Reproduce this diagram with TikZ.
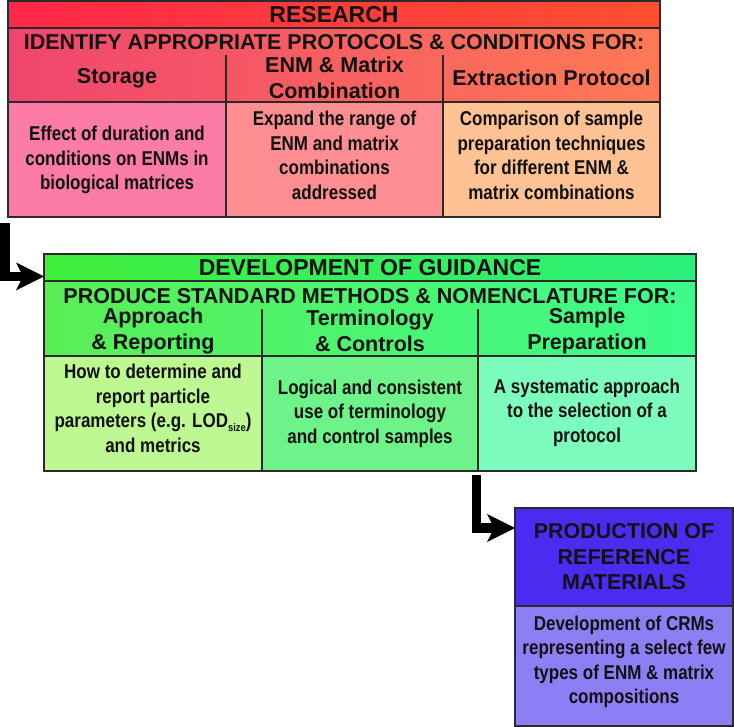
\documentclass[tikz,border=0pt]{standalone}
\usepackage{fontspec}
\setmainfont{Liberation Sans}
\newfontfamily\nfont[FakeStretch=0.85]{Liberation Sans}
\usetikzlibrary{arrows.meta}
\definecolor{bord}{HTML}{2A2A2A}
\definecolor{txt}{HTML}{111111}
\definecolor{rOneL}{HTML}{FF2848}
\definecolor{rOneR}{HTML}{FF4F30}
\definecolor{rTwoL}{HTML}{F0456E}
\definecolor{rTwoR}{HTML}{FF7A55}
\definecolor{rcA}{HTML}{FC7CA6}
\definecolor{rcB}{HTML}{FF8E92}
\definecolor{rcC}{HTML}{FFC294}
\definecolor{gOneL}{HTML}{40EE3A}
\definecolor{gOneR}{HTML}{2CF07C}
\definecolor{gTwoL}{HTML}{5AEE55}
\definecolor{gTwoR}{HTML}{3CFC8C}
\definecolor{gcA}{HTML}{BEF892}
\definecolor{gcB}{HTML}{6DF38A}
\definecolor{gcC}{HTML}{7CFDBE}
\definecolor{pOne}{HTML}{4A2CF0}
\definecolor{pTwo}{HTML}{8E7EF6}
\begin{document}
\begin{tikzpicture}[x=1pt,y=-1pt,
  box/.style={draw=bord, line width=1.6pt, inner sep=0pt, outer sep=0pt, anchor=north west},
  sepline/.style={draw=bord, line width=1.6pt},
  hd/.style={font=\bfseries\fontsize{21.5}{25.5}\selectfont, text=txt, align=center, inner sep=0pt},
  ttl/.style={font=\bfseries\fontsize{23}{25.5}\selectfont, text=txt, align=center, inner sep=0pt},
  bd/.style={font=\nfont\bfseries\fontsize{20}{24.5}\selectfont, text=txt, align=center, inner sep=0pt},
  conn/.style={draw=black, line width=9.5pt, line join=miter,
    -{Stealth[length=28pt,width=28pt,inset=7pt,line width=0pt]}}
]
\useasboundingbox (0,0) rectangle (734,727);

% ---------- RESEARCH block ----------
\node[box, minimum width=652pt, minimum height=27pt, left color=rOneL, right color=rOneR] (rrow1) at (8,1) {};
\node[box, minimum width=652pt, minimum height=74pt, left color=rTwoL, right color=rTwoR] (rrow2) at (8,28) {};
\node[box, fill=rcA, minimum width=218pt, minimum height=115pt] (rc1) at (8,102) {};
\node[box, fill=rcB, minimum width=217pt, minimum height=115pt] (rc2) at (226,102) {};
\node[box, fill=rcC, minimum width=217pt, minimum height=115pt] (rc3) at (443,102) {};
\draw[sepline] (226,55) -- (226,102);
\draw[sepline] (443,55) -- (443,102);

\node[ttl] (t1) at (334,14.5) {RESEARCH};
\node[hd] (t2) at (334,42) {IDENTIFY APPROPRIATE PROTOCOLS \& CONDITIONS FOR:};
\node[hd] (t3) at (117,78) {Storage};
\node[hd] (t4) at (334.5,78) {ENM \& Matrix\\Combination};
\node[hd] (t5) at (551.5,78) {Extraction Protocol};
\node[bd] (t6) at (117,160) {Effect of duration and\\conditions on ENMs in\\biological matrices};
\node[bd] (t7) at (334.5,155.5) {Expand the range of\\ENM and matrix\\combinations\\addressed};
\node[bd] (t8) at (551.5,155.5) {Comparison of sample\\preparation techniques\\for different ENM \&\\matrix combinations};

% ---------- GUIDANCE block ----------
\node[box, minimum width=652pt, minimum height=27pt, left color=gOneL, right color=gOneR] (grow1) at (44,254) {};
\node[box, minimum width=652pt, minimum height=75pt, left color=gTwoL, right color=gTwoR] (grow2) at (44,281) {};
\node[box, fill=gcA, minimum width=218pt, minimum height=115pt] (gc1) at (44,356) {};
\node[box, fill=gcB, minimum width=216pt, minimum height=115pt] (gc2) at (262,356) {};
\node[box, fill=gcC, minimum width=218pt, minimum height=115pt] (gc3) at (478,356) {};
\draw[sepline] (262,309) -- (262,356);
\draw[sepline] (478,309) -- (478,356);

\node[ttl] (u1) at (370,268) {DEVELOPMENT OF GUIDANCE};
\node[hd] (u2) at (370,296) {PRODUCE STANDARD METHODS \& NOMENCLATURE FOR:};
\node[hd] (u3) at (153,331) {Approach\\\& Reporting};
\node[hd] (u4) at (370,331) {Terminology\\\& Controls};
\node[hd] (u5) at (587,331) {Sample\\Preparation};
\node[bd] (u6) at (153,408.5) {How to determine and\\report particle\\parameters (e.g. LOD\raisebox{-3.5pt}{\fontsize{11}{11}\selectfont size})\\and metrics};
\node[bd] (u7) at (370,413.5) {Logical and consistent\\use of terminology\\and control samples};
\node[bd] (u8) at (587,412.5) {A systematic approach\\to the selection of a\\protocol};

% ---------- REFERENCE MATERIALS block ----------
\node[box, fill=pOne, minimum width=218pt, minimum height=98pt] (pc1) at (515,508) {};
\node[box, fill=pTwo, minimum width=218pt, minimum height=120pt] (pc2) at (515,606) {};
\node[hd] (v1) at (624,557) {PRODUCTION OF\\REFERENCE\\MATERIALS};
\node[bd] (v2) at (624,662) {Development of CRMs\\representing a select few\\types of ENM \& matrix\\compositions};

% ---------- connectors ----------
\coordinate (a1s) at (4.75,223);
\coordinate (a1e) at (44,276.5);
\coordinate (a2s) at (476.5,475);
\coordinate (a2e) at (515,528);
\draw[conn] (a1s) |- (a1e);
\draw[conn] (a2s) |- (a2e);
\end{tikzpicture}
\end{document}
